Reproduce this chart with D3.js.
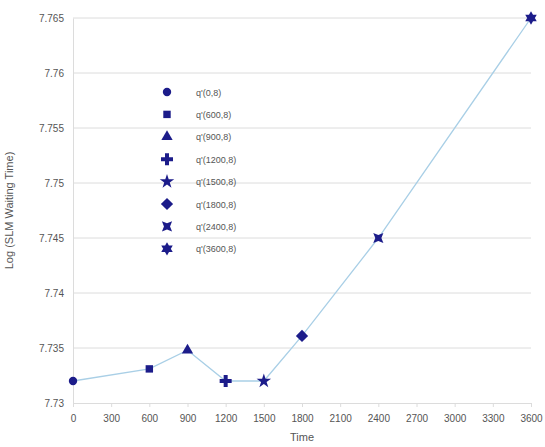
<!DOCTYPE html>
<html>
<head>
<meta charset="utf-8">
<script src="https://cdn.jsdelivr.net/npm/d3@7"></script>
<style>
  html, body { margin: 0; padding: 0; background: #fff; }
  svg text { font-family: "Liberation Sans", "DejaVu Sans", sans-serif; }
</style>
</head>
<body>
<svg id="chart" width="545" height="447"></svg>
<script>
// Log of SLM waiting time at each time point
const times = [0, 600, 900, 1200, 1500, 1800, 2400, 3600];
const logWait = [7.732, 7.7331, 7.7348, 7.732, 7.732, 7.7361, 7.745, 7.765];
const seriesLabels = ["q'(0,8)", "q'(600,8)", "q'(900,8)", "q'(1200,8)", "q'(1500,8)", "q'(1800,8)", "q'(2400,8)", "q'(3600,8)"];
const xTicks = [0, 300, 600, 900, 1200, 1500, 1800, 2100, 2400, 2700, 3000, 3300, 3600];
const yTicks = [7.73, 7.735, 7.74, 7.745, 7.75, 7.755, 7.76, 7.765];

// six-pointed star built from two triangles
const symbolHexStar = {
  draw(ctx, size) {
    const r = Math.sqrt(size) * 0.72;
    for (let k = 0; k < 2; k++) {
      const off = k * Math.PI / 3;
      for (let i = 0; i < 3; i++) {
        const a = off - Math.PI / 2 + i * 2 * Math.PI / 3;
        const px = r * Math.cos(a), py = r * Math.sin(a);
        if (i === 0) ctx.moveTo(px, py); else ctx.lineTo(px, py);
      }
      ctx.closePath();
    }
  }
};
// bow-tie style cross
const symbolBowX = {
  draw(ctx, size) {
    const r = Math.sqrt(size) * 0.55, w = r * 0.6;
    ctx.moveTo(-r, -r); ctx.lineTo(0, -w); ctx.lineTo(r, -r);
    ctx.lineTo(w, 0); ctx.lineTo(r, r); ctx.lineTo(0, w);
    ctx.lineTo(-r, r); ctx.lineTo(-w, 0); ctx.closePath();
  }
};
// square diamond (equal width and height)
const symbolRhombus = {
  draw(ctx, size) {
    const r = Math.sqrt(size / 2);
    ctx.moveTo(0, -r); ctx.lineTo(r, 0); ctx.lineTo(0, r); ctx.lineTo(-r, 0); ctx.closePath();
  }
};
const shapes = [
  { type: d3.symbolCircle, size: 55 },
  { type: d3.symbolSquare, size: 55 },
  { type: d3.symbolTriangle, size: 55 },
  { type: d3.symbolCross, size: 80 },
  { type: d3.symbolStar, size: 65 },
  { type: symbolRhombus, size: 75 },
  { type: symbolBowX, size: 85 },
  { type: symbolHexStar, size: 85 }
];

const markColor = "#1c1c8a";
const lineColor = "#a9cfe6";
const gridColor = "#dcdcdc";
const textColor = "#555";

const svg = d3.select("#chart");
const plotLeft = 73, plotRight = 531, plotTop = 18, plotBottom = 403;

const x = d3.scaleLinear().domain([0, 3600]).range([plotLeft, plotRight]);
const y = d3.scaleLinear().domain([7.73, 7.765]).range([plotBottom, plotTop]);

// horizontal gridlines
svg.append("g")
  .selectAll("line").data(yTicks.slice(1)).join("line")
  .attr("x1", plotLeft).attr("x2", plotRight)
  .attr("y1", d => y(d)).attr("y2", d => y(d))
  .attr("stroke", gridColor).attr("stroke-width", 1);

// y axis
const yAxis = svg.append("g").attr("transform", `translate(${plotLeft},0)`)
  .call(d3.axisLeft(y).tickValues(yTicks).tickFormat(d3.format("")).tickSize(0).tickPadding(9));
yAxis.select(".domain").attr("stroke", gridColor);
yAxis.selectAll("text").attr("fill", textColor).attr("font-size", 10);

// x axis
const xAxis = svg.append("g").attr("transform", `translate(0,${plotBottom})`)
  .call(d3.axisBottom(x).tickValues(xTicks).tickFormat(d3.format("")).tickSize(4).tickPadding(8));
xAxis.select(".domain").attr("stroke", gridColor);
xAxis.selectAll(".tick line").attr("stroke", gridColor);
xAxis.selectAll("text").attr("fill", textColor).attr("font-size", 10);

// axis titles
svg.append("text")
  .attr("x", (plotLeft + plotRight) / 2).attr("y", 441)
  .attr("text-anchor", "middle").attr("font-size", 11).attr("fill", textColor)
  .text("Time");
svg.append("text")
  .attr("transform", `translate(13,${(plotTop + plotBottom) / 2}) rotate(-90)`)
  .attr("text-anchor", "middle").attr("font-size", 11).attr("fill", textColor)
  .text("Log (SLM Waiting Time)");

// connecting line
const pts = times.map((t, i) => [t, logWait[i]]);
svg.append("path")
  .datum(pts)
  .attr("fill", "none").attr("stroke", lineColor).attr("stroke-width", 1.3)
  .attr("d", d3.line().x(d => x(d[0])).y(d => y(d[1])));

// markers
svg.append("g").selectAll("path").data(pts).join("path")
  .attr("transform", d => `translate(${x(d[0])},${y(d[1])})`)
  .attr("fill", markColor)
  .attr("d", (d, i) => d3.symbol().type(shapes[i].type).size(shapes[i].size)());

// legend
const legend = svg.append("g").attr("transform", "translate(167,92)");
const rows = legend.selectAll("g").data(seriesLabels).join("g")
  .attr("transform", (d, i) => `translate(0,${i * 22.4})`);
rows.append("path")
  .attr("fill", markColor)
  .attr("d", (d, i) => d3.symbol().type(shapes[i].type).size(shapes[i].size)());
rows.append("text")
  .attr("x", 29).attr("y", 3.5)
  .attr("font-size", 9).attr("fill", textColor)
  .text(d => d);
</script>
</body>
</html>
